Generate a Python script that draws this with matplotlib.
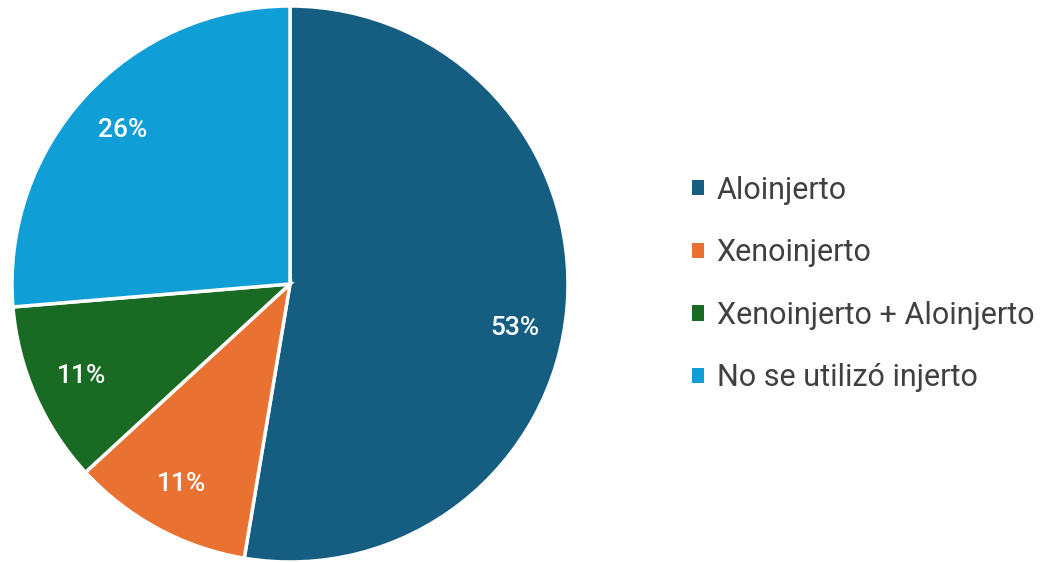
import matplotlib.pyplot as plt

# data
labels = ["Aloinjerto", "Xenoinjerto", "Xenoinjerto + Aloinjerto", "No se utilizó injerto"]
counts = [10, 2, 2, 5]
colors = ["#155E82", "#E97132", "#196B24", "#0F9ED5"]

plt.rcParams['font.family'] = ['Roboto', 'DejaVu Sans']

fig = plt.figure(figsize=(10.49, 5.62), dpi=100)
W, H = 1049, 562
cx, cy, r = 290, 284, 278
ax = fig.add_axes([(cx - r) / W, 1 - (cy + r) / H, 2 * r / W, 2 * r / H])

wedges, texts, autotexts = ax.pie(
    counts, colors=colors, startangle=90, counterclock=False,
    autopct=lambda p: f"{p:.0f}%", pctdistance=0.82, radius=1.0,
    wedgeprops=dict(edgecolor="white", linewidth=2.5),
    textprops=dict(color="white", fontsize=19, fontweight="medium"))
ax.set_xlim(-1, 1)
ax.set_ylim(-1, 1)
ax.set_aspect("equal")

# the big slice label sits a bit lower in the original
x, y = autotexts[0].get_position()
autotexts[0].set_position((x - 0.01, y - 0.09))

leg = fig.legend(wedges, labels, loc="center left",
                 bbox_to_anchor=(664 / W, 1 - 284 / H),
                 frameon=False, fontsize=22, handlelength=0.4, handleheight=0.4,
                 handletextpad=0.42, labelspacing=1.1, labelcolor="#404040")
for h in leg.legend_handles:
    h.set_edgecolor("none")

fig.savefig("out.png", dpi=100, facecolor="white")
